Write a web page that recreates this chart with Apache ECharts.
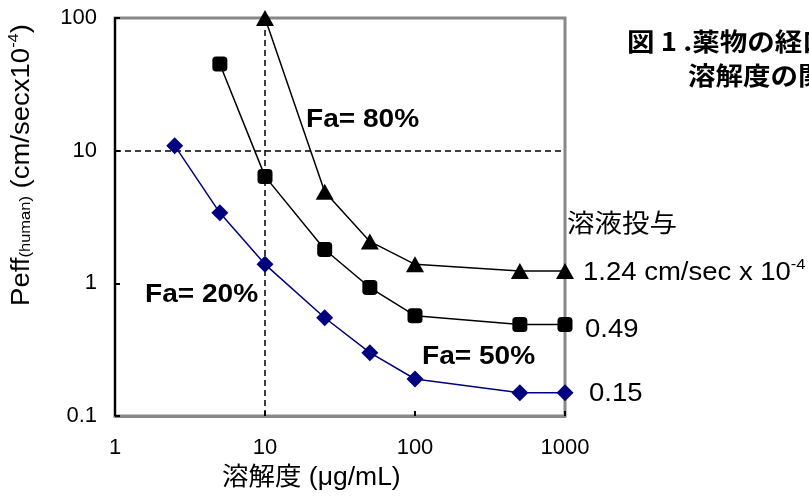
<!DOCTYPE html>
<html><head><meta charset="utf-8">
<script src="https://cdn.jsdelivr.net/npm/echarts@6/dist/echarts.min.js"></script>
<style>html,body{margin:0;padding:0;background:#fff}#c{width:809px;height:497px}</style>
</head><body><div id="c"></div>
<script>
const xTri = [10, 25, 50, 100, 500, 1000];
const yTri = [100, 4.9, 2.07, 1.39, 1.24, 1.24];
const xSq = [5, 10, 25, 50, 100, 500, 1000];
const ySq = [45, 6.4, 1.8, 0.93, 0.57, 0.49, 0.49];
const xDia = [2.5, 5, 10, 25, 50, 100, 500, 1000];
const yDia = [10.9, 3.4, 1.39, 0.55, 0.30, 0.19, 0.15, 0.15];
const xTicks = [1, 10, 100, 1000];
const yTicks = [0.1, 1, 10, 100];
const refX = 10, refY = 10;

const F = '"Liberation Sans", Arial, "Noto Sans CJK JP", sans-serif';
const FJ = '"Noto Sans CJK JP", "Liberation Sans", sans-serif';
const zip = (a, b) => a.map((v, i) => [v, b[i]]);
const txt = (x, y, text, font, sx) => ({type: 'text', x: x, y: y, scaleX: sx || 1.1, z: 10,
  style: {text: text, font: font, fill: '#000', textAlign: 'left', textVerticalAlign: 'middle', verticalAlign: 'middle'}});
const chart = echarts.init(document.getElementById('c'));
chart.setOption({
  animation: false,
  grid: {left: 115, top: 18, right: 244, bottom: 81, show: true, borderColor: '#888', borderWidth: 3},
  xAxis: {type: 'log', logBase: 10, min: 1, max: 1000,
    axisLine: {lineStyle: {color: '#888', width: 3}},
    axisTick: {inside: true, length: 5, lineStyle: {color: '#000', width: 2}},
    axisLabel: {fontSize: 22, fontFamily: F, color: '#000', margin: 21,
      formatter: v => xTicks.includes(Math.round(v)) ? String(Math.round(v)) : ''},
    splitLine: {show: false}, minorTick: {show: false}},
  yAxis: {type: 'log', logBase: 10, min: 0.1, max: 100,
    axisLine: {lineStyle: {color: '#000', width: 2}},
    axisTick: {inside: true, length: 5, lineStyle: {color: '#000', width: 2}},
    axisLabel: {fontSize: 22, fontFamily: F, color: '#000', margin: 18,
      formatter: v => { const t = yTicks.find(k => Math.abs(k - v) / k < 1e-6); return t === undefined ? '' : String(t); }},
    splitLine: {show: false}},
  series: [
    {type: 'line', data: zip(xTri, yTri), symbol: 'triangle', symbolSize: [18, 16],
      lineStyle: {color: '#000', width: 1.5}, itemStyle: {color: '#000'}, z: 5,
      markLine: {silent: true, symbol: 'none', label: {show: false},
        lineStyle: {color: '#000', type: [6, 4], width: 1.5},
        data: [{yAxis: refY}, {xAxis: refX}]}},
    {type: 'line', data: zip(xSq, ySq), symbol: 'roundRect', symbolSize: 15,
      lineStyle: {color: '#000', width: 1.5}, itemStyle: {color: '#000'}, z: 5},
    {type: 'line', data: zip(xDia, yDia), symbol: 'diamond', symbolSize: 17,
      lineStyle: {color: '#000080', width: 1.5}, itemStyle: {color: '#000080'}, z: 5}
  ],
  graphic: [
    txt(306, 120, 'Fa= 80%', 'bold 26px ' + F, 1.08),
    txt(145, 295, 'Fa= 20%', 'bold 26px ' + F, 1.08),
    txt(422, 357, 'Fa= 50%', 'bold 26px ' + F, 1.08),
    txt(567, 222, '溶液投与', '25px ' + FJ, 1.1),
    {type: 'text', x: 583, y: 273, scaleX: 1.1, z: 10, style: {text: '{a|1.24 cm/sec x 10}{s|-4}', textVerticalAlign: 'middle', verticalAlign: 'middle',
      rich: {a: {font: '25px ' + F, fill: '#000'}, s: {font: '15px ' + F, fill: '#000', padding: [0, 0, 16, 0]}}}},
    txt(585, 330, '0.49', '25px ' + F, 1.1),
    txt(589, 394, '0.15', '25px ' + F, 1.1),
    txt(627, 41, '図 1 .薬物の経口吸収', 'bold 25px ' + FJ, 1.1),
    txt(688, 75, '溶解度の関係', 'bold 25px ' + FJ, 1.1),
    txt(222, 478, '溶解度 (μg/mL)', '25px ' + F, 1.06),
    {type: 'text', x: 22, y: 165, rotation: Math.PI / 2, scaleX: 1.1, z: 10,
      style: {text: '{a|Peff}{s|(human)}{a| (cm/secx10}{u|-4}{a|)}', textAlign: 'center', align: 'center', textVerticalAlign: 'middle', verticalAlign: 'middle',
      rich: {a: {font: '25px ' + F, fill: '#000'}, s: {font: '15px ' + F, fill: '#000', padding: [8, 0, 0, 0]}, u: {font: '15px ' + F, fill: '#000', padding: [0, 0, 16, 0]}}}}
  ]
});
</script></body></html>
